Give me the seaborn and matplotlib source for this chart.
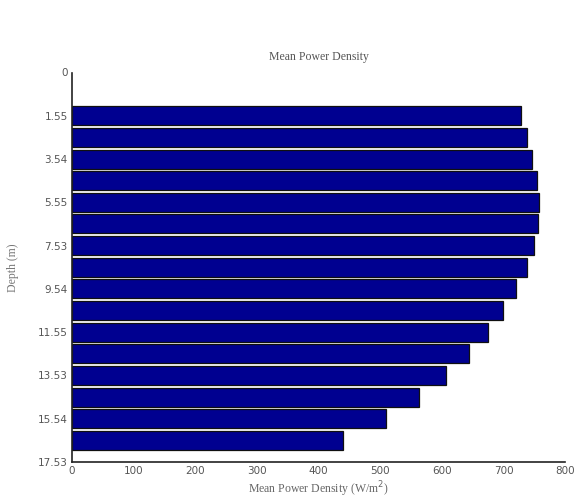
import matplotlib
matplotlib.use("Agg")
import matplotlib.pyplot as plt
import seaborn as sns
import pandas as pd

# Depth bin index of each bar (bins are spaced one unit apart on the axis)
bin_index = [2, 3, 4, 5, 6, 7, 8, 9, 10, 11, 12, 13, 14, 15, 16, 17]
# Mean power density per depth bin (W/m^2)
power_density = [728, 738, 746, 754, 757, 755, 749, 738, 720, 699,
                 674, 643, 606, 563, 509, 440]
# Depth tick positions and labels (m)
depth_ticks = [0, 2, 4, 6, 8, 10, 12, 14, 16, 18]
depth_labels = ["0", "1.55", "3.54", "5.55", "7.53", "9.54",
                "11.55", "13.53", "15.54", "17.53"]
power_ticks = [0, 100, 200, 300, 400, 500, 600, 700, 800]

df = pd.DataFrame({"bin": bin_index, "power": power_density})

sns.set_style("white")
fig = plt.figure(figsize=(5.77, 5.0), dpi=100)
ax = fig.add_axes([0.1248, 0.076, 0.855, 0.779])

sns.barplot(data=df, x="power", y="bin", orient="h", native_scale=True,
            width=0.88, color="#000090", saturation=1,
            edgecolor="#101010", linewidth=0.9, ax=ax)

ax.set_xlim(0, 800)
ax.set_ylim(18, 0)
ax.set_xticks(power_ticks)
ax.set_xticklabels([str(t) for t in power_ticks])
ax.set_yticks(depth_ticks)
ax.set_yticklabels(depth_labels)

for side in ("top", "right"):
    ax.spines[side].set_visible(False)
for side in ("left", "bottom"):
    ax.spines[side].set_color("#222222")
    ax.spines[side].set_linewidth(1.2)

ax.tick_params(axis="both", direction="in", length=4, width=0.8,
               colors="#222222", labelcolor="#555555", labelsize=7.5,
               pad=3)
for lbl in ax.get_xticklabels() + ax.get_yticklabels():
    lbl.set_family("DejaVu Sans")

ax.set_title("Mean Power Density", fontsize=8.5, color="#555555",
             family="Liberation Serif", pad=9)
ax.set_xlabel("Mean Power Density (W/m$^2$)", fontsize=8.5, color="#666666",
              family="Liberation Serif", labelpad=2)
ax.set_ylabel("Depth (m)", fontsize=8.5, color="#777777",
              family="Liberation Serif", labelpad=14)

fig.savefig("out.png", dpi=100)
